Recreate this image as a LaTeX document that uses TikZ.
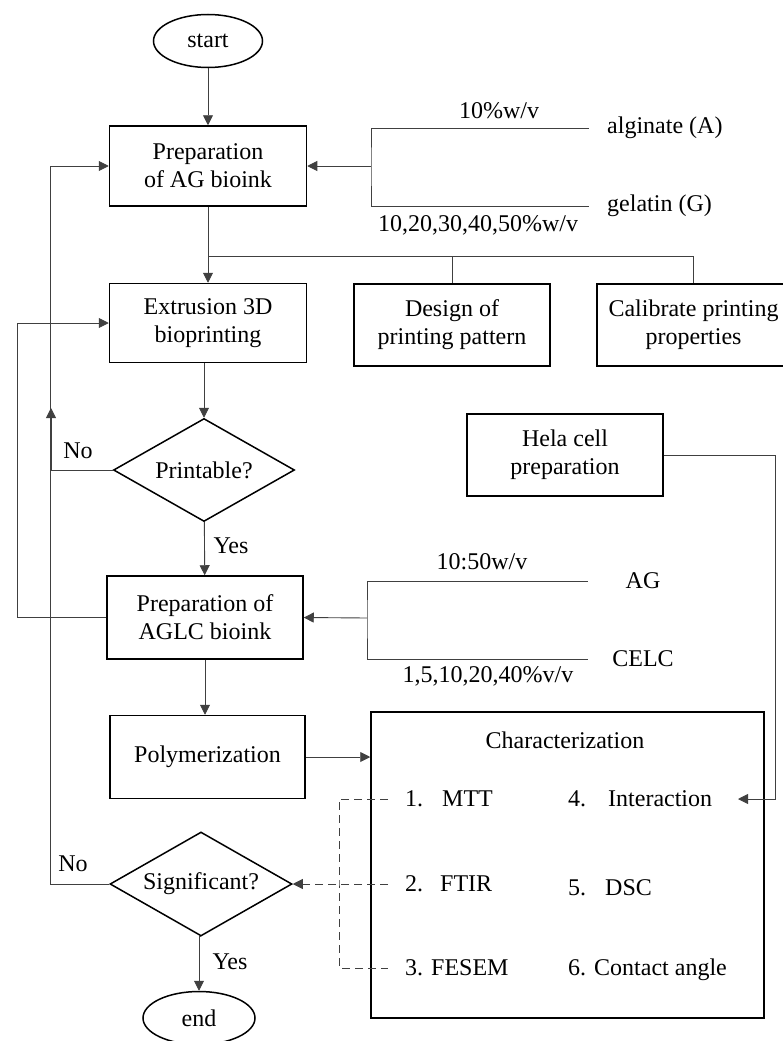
\documentclass[tikz,border=0pt]{standalone}
\usepackage{fontspec}
\setmainfont{Liberation Serif}
\usetikzlibrary{shapes.geometric,arrows.meta}
\definecolor{linkgray}{HTML}{404040}
\tikzset{
  box/.style={draw=black, line width=1.5pt, rectangle, align=center, inner sep=0pt},
  term/.style={draw=black, line width=1.5pt, ellipse, inner sep=0pt},
  decide/.style={draw=black, line width=1.5pt, diamond, aspect=1.75, inner sep=0pt},
  link/.style={draw=linkgray, line width=0.9pt},
  arr/.style={link, -{Triangle[length=10pt,width=10pt]}},
  dashlink/.style={link, dash pattern=on 8pt off 5pt},
  txt/.style={inner sep=0pt},
  item/.style={anchor=west, inner xsep=17pt, inner ysep=0pt}
}
\begin{document}
\begin{tikzpicture}[x=1pt,y=-1pt,font=\fontsize{24}{28}\selectfont]
                \useasboundingbox (0,0) rectangle (783,1041);
                % main column
                \node[term, minimum width=109pt, minimum height=53pt] (start) at (208,41) {start};
                \node[box, minimum width=197pt, minimum height=80pt] (prepAG) at (208,166) {Preparation\\of AG bioink};
                \node[box, minimum width=197pt, minimum height=79pt] (extr) at (208,323) {Extrusion 3D\\bioprinting};
                \node[box, minimum width=196pt, minimum height=82pt] (design) at (452,325) {Design of\\printing pattern};
                \node[box, minimum width=193pt, minimum height=82pt] (calib) at (693.5,325) {Calibrate printing\\properties};
                \node[decide, minimum width=181pt, minimum height=103pt] (print) at (204,470) {Printable?};
                \node[box, minimum width=196pt, minimum height=83pt] (aglc) at (205,617.5) {Preparation of\\AGLC bioink};
                \node[box, minimum width=196pt, minimum height=82pt] (hela) at (565,455) {Hela cell\\preparation};
                \node[box, minimum width=195pt, minimum height=83pt] (poly) at (207.5,757) {Polymerization};
                \node[box, minimum width=393pt, minimum height=306pt] (charac) at (567.5,865) {};
                \node[decide, minimum width=182pt, minimum height=104pt] (sig) at (201,884) {Significant?};
                \node[term, minimum width=112pt, minimum height=53pt] (end) at (199,1018) {end};

                % ingredients
                \node[anchor=west, inner xsep=18pt, inner ysep=0pt] (alg) at (589,128) {alginate (A)};
                \node[anchor=west, inner xsep=18pt, inner ysep=0pt] (gel) at (589,206) {gelatin (G)};
                \node[txt] (algC) at (499,111) {10\%w/v};
                \node[txt] (gelC) at (478,225) {10,20,30,40,50\%w/v};
                \node[txt, minimum width=110pt] (ag) at (643,581) {AG};
                \node[txt, minimum width=110pt] (celc) at (643,659) {CELC};
                \node[txt] (agC) at (482,562) {10:50w/v};
                \node[txt] (celcC) at (488,676) {1,5,10,20,40\%v/v};

                % characterization
                \node[txt] (ctitle) at (565,740) {Characterization};
                \node[item] (i1) at (388,799) {1.\hspace{19pt}MTT};
                \node[item] (i2) at (388,884) {2.\hspace{17pt}FTIR};
                \node[item] (i3) at (388,968) {3. FESEM};
                \node[item] (i4) at (551,799) {4.\hspace{22pt}Interaction};
                \node[item] (i5) at (551,888) {5.\hspace{19pt}DSC};
                \node[item] (i6) at (551,970) {6. Contact angle};

                % decision labels
                \node[txt] (noP) at (78,451) {No};
                \node[txt] (yesP) at (231,546) {Yes};
                \node[txt] (noS) at (73,864) {No};
                \node[txt] (yesS) at (230,962) {Yes};

                \coordinate (jAG) at (371,166);
                \coordinate (jAGLC) at (367,618);
                \coordinate (split) at (208,256);
                \coordinate (upP) at (51,408);
                \coordinate (helaIn) at (738,799);
                \coordinate (dv) at (339,884);

                \draw[arr] (start) -- (prepAG);
                \draw[link] (alg.west) -| (jAG) |- (gel.west);
                \draw[arr] (jAG) -- (prepAG.east);
                \draw[link] (prepAG) -- (split);
                \draw[arr] (split) -- (extr);
                \draw[link] (split) -| (design.north) (split) -| (calib.north);
                \draw[arr] (extr.south -| print.north) -- (print.north);
                \draw[arr] (print.west) -| (upP);
                \draw[arr] (print) -- (aglc);
                \draw[link] (ag.west) -| (jAGLC) |- (celc.west);
                \draw[arr] (jAGLC) -- (aglc.east);
                \draw[arr] (aglc.west) -- ++(-89,0) |- (extr.west);
                \draw[arr] (aglc.south) -- (aglc.south |- poly.north);
                \draw[arr] (poly.east) -- (poly.east -| charac.west);
                \draw[arr] (hela.east) -- ++(112,0) |- (helaIn);
                \draw[dashlink] (i1.west) -| (dv) |- (i3.west);
                \draw[dashlink, -{Triangle[length=10pt,width=10pt]}] (i2.west) -- (sig.east);
                \draw[arr] (sig.west) -- ++(-59,0) |- (prepAG.west);
                \draw[arr] (sig.south) -- (sig.south -| end.north) -- (end.north);

            \end{tikzpicture}
\end{document}
